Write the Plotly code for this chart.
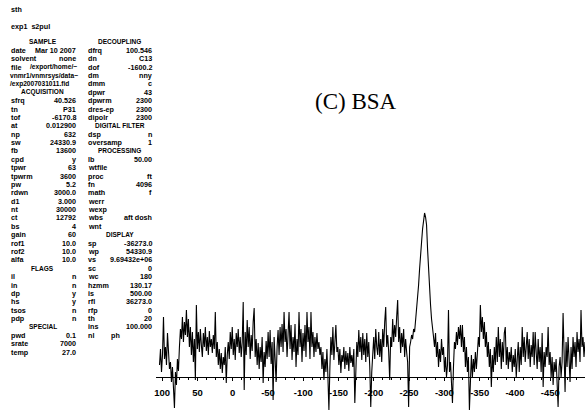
import numpy as np
import plotly.graph_objects as go

# 31P spectrum trace, intensity in plot units, sampled left (high ppm) to right (low ppm)
intensity = [
    12, 28, 5, 22, 60, 18, 30, 12, 44, 20,
    8, 15, -5, 10, -12, -31, 5, -8, 18, 6,
    30, 48, 38, 60, 35, 55, 42, 67, 40, 58,
    30, 50, 22, 45, 15, 38, -3, 72, 28, 45,
    25, 48, 32, 20, 44, 30, 50, 26, 40, 22,
    46, 30, 38, 24, 42, 28, 65, 20, 35, 12,
    28, 8, 24, 4, 20, 12, 30, -6, 22, 35,
    18, 45, 28, 50, 22, 38, 17, 44, 30, 48,
    24, 40, 20, 35, 75, -13, 45, 22, 57, 30,
    50, 18, 42, 26, 55, 69, 20, 38, 12, 34,
    8, 30, 15, 40, -6, 25, 10, 36, 18, 45,
    20, 47, 13, 35, -23, 40, 18, -5, 30, 47,
    22, 50, 30, 53, 25, 65, 35, 48, 20, 44,
    65, 28, 52, 17, 40, 25, 53, 10, 38, 22,
    65, 30, 48, 15, 44, 26, 52, 20, 65, 35,
    50, 18, 65, 30, 45, 20, 40, 25, 44, 28,
    35, 22, 30, 8, 25, -3, 18, 5, 28, 0,
    -33, 10, 40, 22, 50, 17, 38, 52, 25, 30,
    12, 28, 4, 22, 15, 30, 8, 26, 12, 24,
    6, 30, 14, 22, 10, 28, -26, 18, 35, 20,
    47, 25, 40, 17, 44, 22, 38, 15, 44, 20,
    35, 10, -30, 5, 25, 40, 18, 48, 30, 22,
    45, 20, 38, 15, 48, 30, 55, 70, 30, 42,
    25, -3, 40, 30, 58, 35, 52, 40, 60, 77,
    35, 50, 24, 44, 30, 48, 20, 38, 25, 15,
    -30, 30, 35, 42, 38, 48, 45, 55, 65, 78,
    92, 108, 118, 135, 148, 158, 164, 160, 152, 128,
    105, 85, 72, 58, 45, 40, 30, 44, 20, 35,
    10, 28, 15, 38, 22, 30, 5, 20, 0, 12,
    67, 5, 15, -8, -26, 10, 35, 28, 45, 32,
    50, 38, 52, 30, 52, 25, 40, 10, 30, 5,
    20, -33, 8, 22, 0, 18, 5, 25, 8, 20,
    40, 30, 72, 45, 60, 38, 55, 30, 45, 20,
    35, 10, 28, -10, 22, 5, 30, 12, 40, 15,
    50, 20, 38, 8, 35, 15, 44, 50, 12, 30,
    8, 25, 15, 30, 5, 22, 10, 28, 0, 18,
    35, 5, 30, 12, 50, 20, 40, 15, 30, 45,
    18, 38, 10, 32, 20, 45, 12, 45, 25, 8,
    38, 15, 30, 5, 44, -10, 25, 10, 30, 20,
    50, 12, 25, 0, 20, -8, 15, 5, 18, -10,
    -30, 10, 20, 0, 15, 64, 20, -15, 35, 10,
    40, 15, -5, 30, 8, 40, 20, 35, 10, 45,
    25, 38, 15, 67, 30, 40, 20, 35,
]

# chemical-shift window of the trace (ppm)
ppm_first = 103.8
ppm_last = -499.3
ppm = np.linspace(ppm_first, ppm_last, len(intensity))

tick_ppm = [100, 50, 0, -50, -100, -150, -200, -250, -300, -350, -400, -450]
tick_text = ["100", "50", "0", "-50", "-100", "-150", "-200", "-250",
             "-300", "-350", "-400", "-450"]

title_text = "(C) BSA"

# parameter listing: (label, value); ("#", text) marks a section heading,
# ("", text) is a continuation line written from the left margin
left_params = [
    ("#", "SAMPLE"),
    ("date", "Mar 10 2007"),
    ("solvent", "none"),
    ("file", "/export/home/~"),
    ("", "vnmr1/vnmrsys/data~"),
    ("", "/exp2007031011.fid"),
    ("#", "ACQUISITION"),
    ("sfrq", "40.526"),
    ("tn", "P31"),
    ("tof", "-6170.8"),
    ("at", "0.012900"),
    ("np", "632"),
    ("sw", "24330.9"),
    ("fb", "13600"),
    ("cpd", "y"),
    ("tpwr", "63"),
    ("tpwrm", "3600"),
    ("pw", "5.2"),
    ("rdwn", "3000.0"),
    ("d1", "3.000"),
    ("nt", "30000"),
    ("ct", "12792"),
    ("bs", "4"),
    ("gain", "60"),
    ("rof1", "10.0"),
    ("rof2", "10.0"),
    ("alfa", "10.0"),
    ("#", "FLAGS"),
    ("il", "n"),
    ("in", "n"),
    ("dp", "y"),
    ("hs", "y"),
    ("tsos", "n"),
    ("pdp", "n"),
    ("#", "SPECIAL"),
    ("pwd", "0.1"),
    ("srate", "7000"),
    ("temp", "27.0"),
]

right_params = [
    ("#", "DECOUPLING"),
    ("dfrq", "100.546"),
    ("dn", "C13"),
    ("dof", "-1600.2"),
    ("dm", "nny"),
    ("dmm", "c"),
    ("dpwr", "43"),
    ("dpwrm", "2300"),
    ("dres-ep", "2300"),
    ("dipolr", "2300"),
    ("#", "DIGITAL FILTER"),
    ("dsp", "n"),
    ("oversamp", "1"),
    ("#", "PROCESSING"),
    ("lb", "50.00"),
    ("wtfile", ""),
    ("proc", "ft"),
    ("fn", "4096"),
    ("math", "f"),
    ("werr", ""),
    ("wexp", ""),
    ("wbs", "aft dosh"),
    ("wnt", ""),
    ("#", "DISPLAY"),
    ("sp", "-36273.0"),
    ("wp", "54330.9"),
    ("vs", "9.69432e+06"),
    ("sc", "0"),
    ("wc", "180"),
    ("hzmm", "130.17"),
    ("is", "500.00"),
    ("rfl", "36273.0"),
    ("rfp", "0"),
    ("th", "20"),
    ("ins", "100.000"),
    ("nl", "ph"),
]

W, H = 585, 410

fig = go.Figure()
fig.add_trace(go.Scatter(
    x=ppm, y=intensity, mode="lines",
    line=dict(color="black", width=1.1),
    hoverinfo="skip", showlegend=False,
))

txt_font = dict(family="Liberation Sans", size=7.2, color="black", weight="bold")
long_font = dict(family="Liberation Sans", size=6.6, color="black", weight="bold")
head_font = dict(family="Liberation Sans", size=6.5, color="black", weight="bold")


def px_x(p):
    return p / W


def px_y(p):
    return 1 - p / H


annotations = []


def add_text(text, x, y, anchor="left", font=txt_font):
    annotations.append(dict(
        text=text, x=px_x(x), y=px_y(y), xref="paper", yref="paper",
        xanchor=anchor, yanchor="middle", showarrow=False, font=font,
    ))


add_text("sth", 7, 9.5)
add_text("exp1  s2pul", 7, 26)

row0, pitch = 42.0, 8.38
for i, (lab, val) in enumerate(left_params):
    y = row0 + i * pitch
    if lab == "#":
        add_text(val, 41, y, "center", head_font)
    elif lab == "":
        add_text(val, 6, y, "left", long_font)
    elif lab == "file":
        add_text(lab, 7, y)
        add_text(val, 77, y, "right", long_font)
    else:
        add_text(lab, 7, y)
        if val:
            add_text(val, 76, y, "right")

for i, (lab, val) in enumerate(right_params):
    y = row0 + i * pitch
    if lab == "#":
        add_text(val, 118, y, "center", head_font)
        continue
    add_text(lab, 84, y)
    if lab == "nl":
        add_text(val, 107, y)
    elif val:
        add_text(val, 153, y, "right")

annotations.append(dict(
    text=title_text, x=px_x(355), y=px_y(101), xref="paper", yref="paper",
    xanchor="center", yanchor="middle", showarrow=False,
    font=dict(family="Liberation Serif", size=23, color="black"),
))

fig.update_layout(
    width=W, height=H, autosize=False,
    margin=dict(l=0, r=0, t=0, b=0, pad=0),
    paper_bgcolor="white", plot_bgcolor="white",
    showlegend=False,
    annotations=annotations,
    xaxis=dict(
        domain=[155 / W, 1],
        range=[108.1, -499.3],
        anchor="free", position=33 / H,
        showline=True, linecolor="black", linewidth=1.2,
        showgrid=False, zeroline=False,
        ticks="outside", ticklen=3, tickcolor="black", tickwidth=1,
        tickvals=tick_ppm, ticktext=tick_text,
        ticklabelstandoff=3,
        tickfont=dict(family="Liberation Sans", size=9.5, color="black", weight="bold"),
        minor=dict(dtick=12.5, tick0=0, ticks="outside", ticklen=2,
                   tickcolor="black", showgrid=False),
    ),
    yaxis=dict(
        domain=[0, 1], range=[-33, 377], visible=False,
        showgrid=False, zeroline=False,
    ),
)

fig.write_html("out.html")
